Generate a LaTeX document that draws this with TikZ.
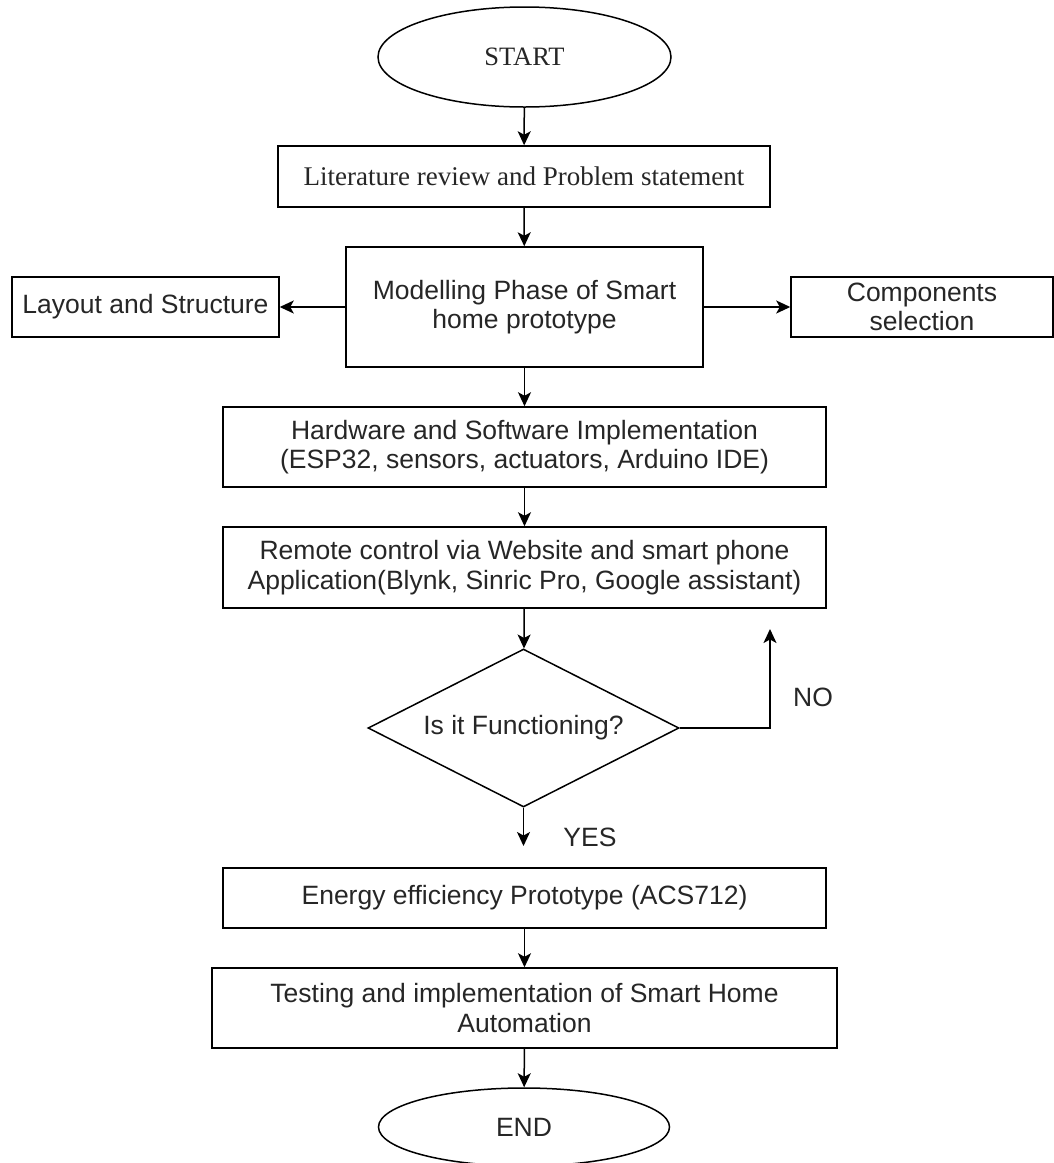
\documentclass[tikz,border=0pt]{standalone}
\usepackage{fontspec}
\setmainfont{Liberation Serif}
\setsansfont{Liberation Sans}
\usetikzlibrary{shapes.geometric,arrows.meta}
\begin{document}
\begin{tikzpicture}[x=1pt,y=-1pt,
  every node/.style={text=black!85},
  base/.style={draw=black, line width=1.5pt, inner sep=0pt, align=center,
    font=\sffamily\fontsize{26.5}{29.5}\selectfont},
  procbox/.style={base, rectangle},
  serifbox/.style={base, rectangle, font=\rmfamily\fontsize{27}{30}\selectfont},
  term/.style={base, ellipse},
  decide/.style={base, diamond, aspect=1.97},
  lbl/.style={font=\sffamily\fontsize{26.5}{29.5}\selectfont, inner sep=0pt},
  arr/.style={draw=black, line width=1.5pt, -{Stealth[length=14pt,width=13pt,inset=3.5pt]}}
]
\useasboundingbox (0,0) rectangle (1054,1163);
\fill[white] (0,0) rectangle (1054,1163);

\node[term, font=\rmfamily\fontsize{26.5}{29.5}\selectfont, minimum width=293pt, minimum height=100pt] (start) at (524.5,57) {START};
\node[serifbox, minimum width=492pt, minimum height=61pt] (lit) at (524,176.5) {Literature review and Problem statement};
\node[procbox, minimum width=357pt, minimum height=120pt] (model) at (524.5,307) {Modelling Phase of Smart\\home prototype};
\node[procbox, minimum width=267pt, minimum height=60pt] (layout) at (145.5,307) {Layout and Structure};
\node[procbox, minimum width=262pt, minimum height=60pt] (comp) at (922,307) {Components\\selection};
\node[procbox, minimum width=603pt, minimum height=80pt] (hw) at (524.5,447) {Hardware and Software Implementation\\(ESP32, sensors, actuators, Arduino IDE)};
\node[procbox, minimum width=603pt, minimum height=81pt] (remote) at (524.5,567.5) {Remote control via Website and smart phone\\Application(Blynk, Sinric Pro, Google assistant)};
\node[decide, minimum width=311pt, minimum height=158pt] (dec) at (523.5,728) {Is it Functioning?};
\node[procbox, minimum width=603pt, minimum height=60pt] (energy) at (524.5,898) {Energy efficiency Prototype (ACS712)};
\node[procbox, minimum width=625pt, minimum height=80pt] (test) at (524.5,1008) {Testing and implementation of Smart Home\\Automation};
\node[term, minimum width=291pt, minimum height=78pt] (endn) at (524,1127) {END};

\coordinate (noend) at (770,629);
\coordinate (yesend) at (523.5,846);

\draw[arr] (start) -- (lit);
\draw[arr] (lit) -- (model);
\draw[arr] (model) -- (layout);
\draw[arr] (model) -- (comp);
\draw[arr] (model) -- (hw);
\draw[arr] (hw) -- (remote);
\draw[arr] (remote) -- (dec);
\draw[arr] (dec.east) -| (noend);
\draw[arr] (dec.south) -- (yesend);
\draw[arr] (energy) -- (test);
\draw[arr] (test) -- (endn);

\node[lbl] (nolbl) at (813,697) {NO};
\node[lbl] (yeslbl) at (590,837) {YES};
\end{tikzpicture}
\end{document}
